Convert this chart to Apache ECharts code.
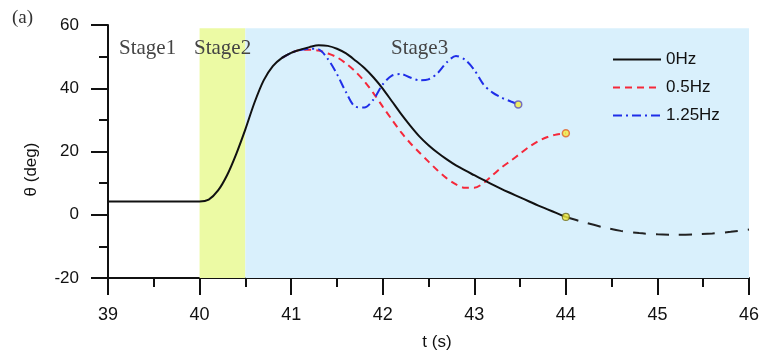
<!DOCTYPE html>
<html>
<head>
<meta charset="UTF-8">
<title>theta</title>
<script src="https://cdn.jsdelivr.net/npm/echarts@6/dist/echarts.min.js"></script>
<style>
html,body{margin:0;padding:0;background:#fff;}
#chart{width:763px;height:356px;}
</style>
</head>
<body>
<div id="chart"></div>
<script type="text/javascript">
// values: time (s) and angle (deg)
var t0 = [39.0, 39.5, 40.0, 40.1, 40.2, 40.3, 40.4, 40.5, 40.6, 40.7, 40.8, 40.9, 41.0, 41.1, 41.2, 41.3, 41.4, 41.5, 41.6, 41.7, 41.8, 41.9, 42.0, 42.1, 42.2, 42.3, 42.4, 42.5, 42.6, 42.7, 42.8, 42.9, 43.0, 43.1, 43.2, 43.3, 43.4, 43.5, 43.6, 43.7, 43.8, 43.9, 44.0];
var v0 = [4.2, 4.2, 4.2, 4.8, 7.6, 12.5, 19.2, 27.0, 35.5, 42.5, 47.0, 49.6, 51.2, 52.2, 53.0, 53.6, 53.4, 52.5, 51.0, 48.8, 46.4, 43.4, 39.9, 35.9, 31.9, 28.2, 24.8, 22.0, 19.6, 17.5, 15.6, 14.0, 12.5, 11.0, 9.5, 8.1, 6.8, 5.5, 4.2, 2.9, 1.7, 0.5, -0.7];
// 0Hz continuation (dashed)
var tExt = [44.0, 44.2, 44.4, 44.6, 44.8, 45.0, 45.2, 45.4, 45.6, 45.8, 46.0];
var vExt = [-0.7, -2.4, -3.9, -5.1, -5.8, -6.2, -6.3, -6.2, -5.9, -5.4, -4.7];
var t05 = [40.9, 41.0, 41.1, 41.2, 41.3, 41.4, 41.5, 41.6, 41.7, 41.8, 41.9, 42.0, 42.1, 42.2, 42.3, 42.4, 42.5, 42.6, 42.7, 42.8, 42.9, 43.0, 43.1, 43.2, 43.3, 43.4, 43.5, 43.6, 43.7, 43.8, 43.9, 44.0];
var v05 = [49.6, 51.2, 52.1, 52.2, 51.9, 51.0, 49.8, 47.8, 45.3, 42.2, 38.4, 34.2, 30.1, 26.1, 22.7, 19.7, 16.8, 14.0, 11.5, 9.6, 8.5, 8.5, 10.0, 12.5, 15.0, 17.1, 19.3, 21.5, 23.3, 24.6, 25.4, 25.8];
var t125 = [40.9, 41.0, 41.1, 41.2, 41.3, 41.4, 41.5, 41.6, 41.7, 41.8, 41.9, 42.0, 42.1, 42.2, 42.3, 42.4, 42.5, 42.6, 42.7, 42.8, 42.9, 43.0, 43.1, 43.2, 43.3, 43.4, 43.48];
var v125 = [49.6, 51.2, 52.1, 52.5, 52.3, 49.3, 44.5, 38.7, 34.2, 33.9, 36.5, 41.2, 44.0, 44.5, 43.4, 42.5, 42.8, 44.8, 48.2, 50.2, 49.0, 45.8, 41.2, 38.6, 37.0, 35.8, 34.9];
var seriesNames = ['0Hz', '0.5Hz', '1.25Hz'];
var stageEdges = [40.0, 40.5, 46.0];   // stage2 / stage3 shading
var shadeTop = 59;
var stageNames = ['Stage1', 'Stage2', 'Stage3'];
var xTicks = [39, 46, 1];
var yTicks = [-20, 60, 20];

function pairs(ts, vs){
	var out = [];
	for (var i = 0; i < ts.length; i++) out.push([ts[i], vs[i]]);
	return out;
}
function last(ts, vs){ return [ts[ts.length-1], vs[vs.length-1]]; }

var mychart = echarts.init(document.getElementById('chart'));
var axisCol = '#111';
var option = {
	backgroundColor: '#fff',
	animation: false,
	grid: {left: 108, right: 14, top: 25, bottom: 76},
	legend: {
		data: seriesNames,
		orient: 'vertical',
		left: 612, top: 51, padding: 0,
		itemWidth: 48, itemHeight: 14, itemGap: 11,
		itemStyle: {opacity: 0},
		textStyle: {fontFamily: 'Liberation Sans', fontSize: 17, color: '#111'}
	},
	xAxis: {
		type: 'value', min: xTicks[0], max: xTicks[1], interval: xTicks[2],
		name: 't (s)', nameLocation: 'middle', nameGap: 56,
		nameTextStyle: {fontFamily: 'Liberation Sans', fontSize: 17, color: '#111', padding: [0,0,0,17]},
		axisLine: {onZero: false, lineStyle: {color: axisCol, width: 2}},
		axisTick: {length: 17, lineStyle: {color: axisCol, width: 2}},
		minorTick: {show: true, splitNumber: 2, length: 9, lineStyle: {color: axisCol, width: 2}},
		splitLine: {show: false},
		axisLabel: {margin: 28, fontFamily: 'Liberation Sans', fontSize: 18, color: '#111'}
	},
	yAxis: {
		type: 'value', min: yTicks[0], max: yTicks[1], interval: yTicks[2],
		name: 'θ (deg)', nameLocation: 'middle', nameGap: 68,
		nameTextStyle: {fontFamily: 'Liberation Sans', fontSize: 17, color: '#111', padding: [0,36,0,0]},
		axisLine: {show: true, onZero: false, lineStyle: {color: axisCol, width: 2}},
		axisTick: {show: true, length: 17, lineStyle: {color: axisCol, width: 2}},
		minorTick: {show: true, splitNumber: 2, length: 9, lineStyle: {color: axisCol, width: 2}},
		splitLine: {show: false},
		axisLabel: {margin: 29, fontFamily: 'Liberation Sans', fontSize: 17, color: '#111'}
	},
	graphic: [
		{type: 'text', left: 12, top: 9, z: 100, style: {text: '(a)', font: '19px "Liberation Serif"', fill: '#333'}},
		{type: 'text', left: 119, top: 38, z: 100, style: {text: stageNames[0], font: '21px "Liberation Serif"', fill: '#444'}},
		{type: 'text', left: 194, top: 38, z: 100, style: {text: stageNames[1], font: '21px "Liberation Serif"', fill: '#444'}},
		{type: 'text', left: 391, top: 38, z: 100, style: {text: stageNames[2], font: '21px "Liberation Serif"', fill: '#444'}}
	],
	series: [
		{
			// shaded stages
			type: 'line', data: [], z: 1, silent: true,
			markArea: {
				silent: true,
				data: [
					[{xAxis: stageEdges[0], yAxis: yTicks[0], itemStyle: {color: '#ecfaa4'}}, {xAxis: stageEdges[1], yAxis: shadeTop}],
					[{xAxis: stageEdges[1], yAxis: yTicks[0], itemStyle: {color: '#d9f0fc'}}, {xAxis: stageEdges[2], yAxis: shadeTop}]
				]
			}
		},
		{
			name: seriesNames[1], type: 'line', z: 3, data: pairs(t05, v05),
			smooth: 0.3, symbol: 'none',
			lineStyle: {color: '#f5283a', width: 2, type: [7, 5]},
			itemStyle: {color: '#f5283a'}
		},
		{
			name: seriesNames[2], type: 'line', z: 3, data: pairs(t125, v125),
			smooth: 0.3, symbol: 'none',
			lineStyle: {color: '#1f2ee8', width: 2, type: [9, 4, 2, 4]},
			itemStyle: {color: '#1f2ee8'}
		},
		{
			name: seriesNames[0], type: 'line', z: 4, data: pairs(t0, v0),
			smooth: 0.3, symbol: 'none',
			lineStyle: {color: '#111', width: 2},
			itemStyle: {color: '#111'}
		},
		{
			name: 'ext', type: 'line', z: 4, data: pairs(tExt, vExt),
			smooth: 0.3, symbol: 'none',
			lineStyle: {color: '#222', width: 2, type: [13, 10]}
		},
		{
			name: 'ends', type: 'scatter', z: 6, symbolSize: 7,
			data: [
				{value: last(t0, v0), itemStyle: {color: '#f2ee3c', borderColor: '#6d6a1e', borderWidth: 1.2}},
				{value: last(t05, v05), itemStyle: {color: '#f2ee3c', borderColor: '#e0602a', borderWidth: 1.5}},
				{value: last(t125, v125), itemStyle: {color: '#f2ee3c', borderColor: '#5a4fc0', borderWidth: 1.5}}
			]
		}
	]
};
mychart.setOption(option);
</script>
</body>
</html>
